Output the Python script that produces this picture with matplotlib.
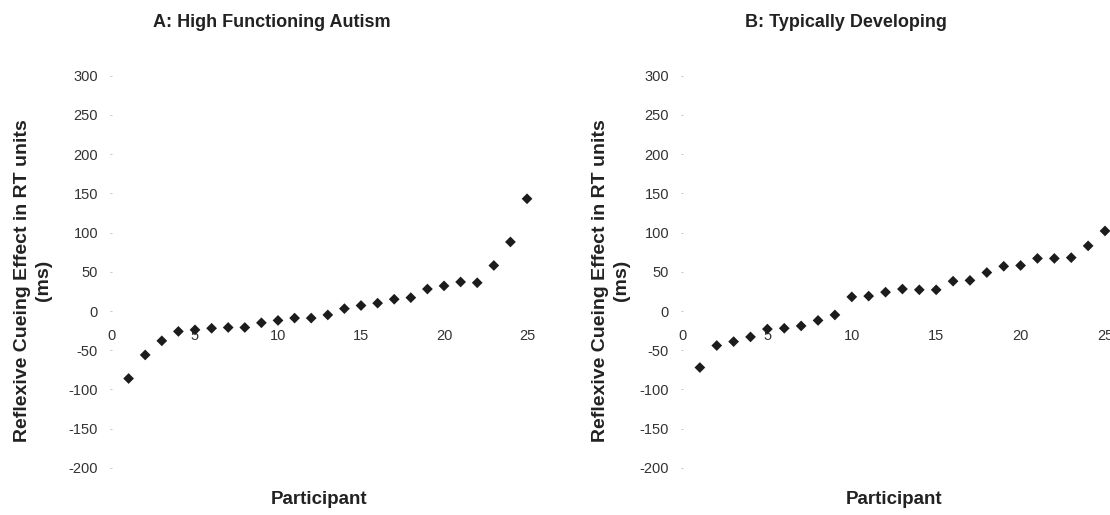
import numpy as np
import matplotlib
matplotlib.use("Agg")
import matplotlib.pyplot as plt

plt.rcParams['font.family'] = ['Liberation Sans', 'DejaVu Sans']
plt.rcParams['axes.unicode_minus'] = False

participants = list(range(1, 26))

# Panel A: High Functioning Autism (sorted cueing effects, ms)
hfa_effect = [-86, -56, -38, -26, -24, -22, -21, -21, -15, -12,
              -9, -9, -5, 3, 7, 10, 15, 17, 28, 32,
              37, 36, 58, 88, 143]

# Panel B: Typically Developing
td_effect = [-72, -44, -39, -33, -23, -22, -19, -12, -5, 18,
             19, 24, 28, 27, 27, 38, 39, 49, 57, 58,
             67, 67, 68, 83, 102]

y_ticks = [-200, -150, -100, -50, 0, 50, 100, 150, 200, 250, 300]
x_ticks = [0, 5, 10, 15, 20, 25]

# title, values, axes rect, title x, ylabel x
panels = [
    ("A: High Functioning Autism", hfa_effect, [0.1009, 0.0913, 0.3739, 0.762], 0.385, -0.144),
    ("B: Typically Developing", td_effect, [0.6153, 0.0913, 0.3802, 0.762], 0.386, -0.126),
]

fig = plt.figure(figsize=(11.1, 5.15), dpi=100)

for title, vals, rect, tx, lx in panels:
    ax = fig.add_axes(rect)
    ax.scatter(participants, vals, marker='D', s=30, color='#1c1c1c',
               edgecolors='none', clip_on=False, zorder=3)
    ax.set_xlim(0, 25)
    ax.set_ylim(-200, 300)
    ax.set_yticks(y_ticks)
    ax.set_xticks(x_ticks)
    for s in ['top', 'right', 'left', 'bottom']:
        ax.spines[s].set_visible(False)
    ax.spines['bottom'].set_position(('data', 0))
    ax.tick_params(axis='y', length=1.5, width=0.6, color='#bbbbbb', pad=8.5,
                   labelsize=10.5, labelcolor='#333333')
    ax.tick_params(axis='x', length=0, pad=13, labelsize=10.5, labelcolor='#333333')
    ax.set_title(title, x=tx, y=1.124, pad=0, fontsize=13, fontweight='bold', color='#222222')
    ax.set_ylabel("Reflexive Cueing Effect in RT units\n(ms)", fontsize=14,
                  fontweight='bold', color='#222222', linespacing=1.3)
    ax.yaxis.set_label_coords(lx, 0.478)
    ax.set_xlabel("Participant", fontsize=13.5, fontweight='bold', color='#222222')
    ax.xaxis.set_label_coords(0.5, -0.058)

fig.savefig("out.png", dpi=100)
